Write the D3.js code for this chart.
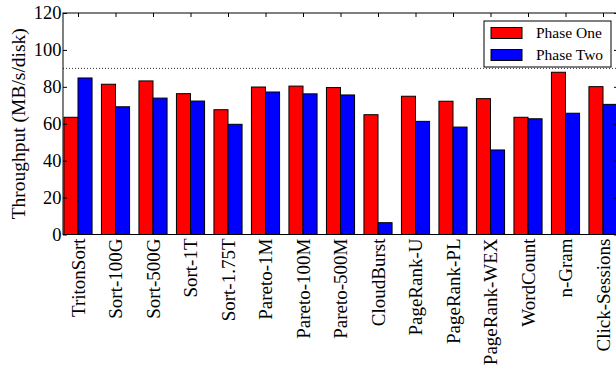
<!DOCTYPE html>
<html>
<head>
<meta charset="utf-8">
<script src="https://cdn.jsdelivr.net/npm/d3@7/dist/d3.min.js"></script>
<style>
  html, body { margin: 0; padding: 0; background: #fff; overflow: hidden; }
  text { font-family: "Liberation Serif", "Times New Roman", Times, "DejaVu Serif", serif; }
</style>
</head>
<body>
<svg id="chart" width="616" height="373"></svg>
<script>
// Workloads along the x axis
const categories = [
  "TritonSort", "Sort-100G", "Sort-500G", "Sort-1T", "Sort-1.75T",
  "Pareto-1M", "Pareto-100M", "Pareto-500M", "CloudBurst", "PageRank-U",
  "PageRank-PL", "PageRank-WEX", "WordCount", "n-Gram", "Click-Sessions"
];
// Per-disk throughput (MB/s/disk) of each phase
const phaseOne = [63.5, 81.4, 83.2, 76.3, 67.6, 79.9, 80.4, 79.6, 64.9, 74.9, 72.2, 73.6, 63.5, 87.9, 80.1];
const phaseTwo = [84.8, 69.2, 73.9, 72.3, 59.7, 77.2, 76.2, 75.6, 6.4, 61.3, 58.2, 45.8, 62.7, 65.7, 70.5];
const seriesNames = ["Phase One", "Phase Two"];
const seriesColors = ["#ff0000", "#0000ff"];
const yTicks = [0, 20, 40, 60, 80, 100, 120];
const referenceLine = 90;

const FONT = "'Liberation Serif', 'Times New Roman', Times, 'DejaVu Serif', serif";

const svg = d3.select("#chart");
const plot = { left: 63, right: 618, top: 13, bottom: 234.5 };
const barWidth = 0.375;

const x = d3.scaleLinear().domain([-0.4, categories.length - 0.6]).range([plot.left, plot.right]);
const y = d3.scaleLinear().domain([0, 120]).range([plot.bottom, plot.top]);

// Reference line at 90 MB/s/disk
svg.append("line")
  .attr("x1", plot.left).attr("x2", plot.right)
  .attr("y1", y(referenceLine)).attr("y2", y(referenceLine))
  .attr("stroke", "#333").attr("stroke-width", 1)
  .attr("stroke-dasharray", "1,2");

// Bars: Phase One left of each centre, Phase Two right of it
const series = [phaseOne, phaseTwo];
series.forEach((vals, s) => {
  svg.append("g").selectAll("rect")
    .data(vals)
    .join("rect")
    .attr("x", (d, i) => x(i + (s === 0 ? -barWidth : 0)))
    .attr("width", (d, i) => x(i + barWidth) - x(i))
    .attr("y", d => y(d))
    .attr("height", d => y(0) - y(d))
    .attr("fill", seriesColors[s])
    .attr("stroke", "#000")
    .attr("stroke-width", 1);
});

// Frame
svg.append("rect")
  .attr("x", plot.left).attr("y", plot.top)
  .attr("width", plot.right - plot.left).attr("height", plot.bottom - plot.top)
  .attr("fill", "none").attr("stroke", "#000").attr("stroke-width", 1);

const idx = d3.range(categories.length);

// Inward ticks on all four sides
const topAxis = svg.append("g").attr("transform", `translate(0,${plot.top})`)
  .call(d3.axisBottom(x).tickValues(idx).tickSize(4).tickFormat(""));
const bottomAxis = svg.append("g").attr("transform", `translate(0,${plot.bottom})`)
  .call(d3.axisTop(x).tickValues(idx).tickSize(4).tickFormat(""));
const leftAxis = svg.append("g").attr("transform", `translate(${plot.left},0)`)
  .call(d3.axisRight(y).tickValues(yTicks).tickSize(4).tickFormat(""));
const rightAxis = svg.append("g").attr("transform", `translate(${plot.right},0)`)
  .call(d3.axisLeft(y).tickValues(yTicks).tickSize(4).tickFormat(""));
[topAxis, bottomAxis, leftAxis, rightAxis].forEach(g => {
  g.select(".domain").remove();
  g.selectAll("line").attr("stroke", "#000");
});

// Y tick labels
svg.append("g").selectAll("text")
  .data(yTicks)
  .join("text")
  .attr("x", plot.left - 1.5)
  .attr("y", d => y(d))
  .attr("dy", "0.34em")
  .attr("text-anchor", "end")
  .attr("font-family", FONT)
  .attr("font-size", 18.5)
  .attr("fill", "#000")
  .text(d => d);

// Rotated category labels
svg.append("g").selectAll("text")
  .data(categories)
  .join("text")
  .attr("transform", (d, i) => `translate(${x(i)},${plot.bottom + 4}) rotate(-90)`)
  .attr("dy", "0.35em")
  .attr("text-anchor", "end")
  .attr("font-family", FONT)
  .attr("font-size", 19)
  .attr("fill", "#000")
  .text(d => d);

// Y axis title
svg.append("text")
  .attr("transform", `translate(25,${(plot.top + plot.bottom) / 2}) rotate(-90)`)
  .attr("text-anchor", "middle")
  .attr("font-family", FONT)
  .attr("font-size", 19.5)
  .attr("fill", "#000")
  .text("Throughput (MB/s/disk)");

// Legend
const legend = svg.append("g").attr("transform", "translate(484,21)");
legend.append("rect")
  .attr("width", 127).attr("height", 46)
  .attr("fill", "#fff").attr("stroke", "#000").attr("stroke-width", 1);
seriesNames.forEach((name, s) => {
  legend.append("rect")
    .attr("x", 7).attr("y", 6.5 + s * 22)
    .attr("width", 31).attr("height", 11)
    .attr("fill", seriesColors[s]).attr("stroke", "#000").attr("stroke-width", 1);
  legend.append("text")
    .attr("x", 52).attr("y", 12 + s * 22)
    .attr("dy", "0.35em")
    .attr("font-family", FONT)
    .attr("font-size", 15.5)
    .attr("fill", "#000")
    .text(name);
});
</script>
</body>
</html>
